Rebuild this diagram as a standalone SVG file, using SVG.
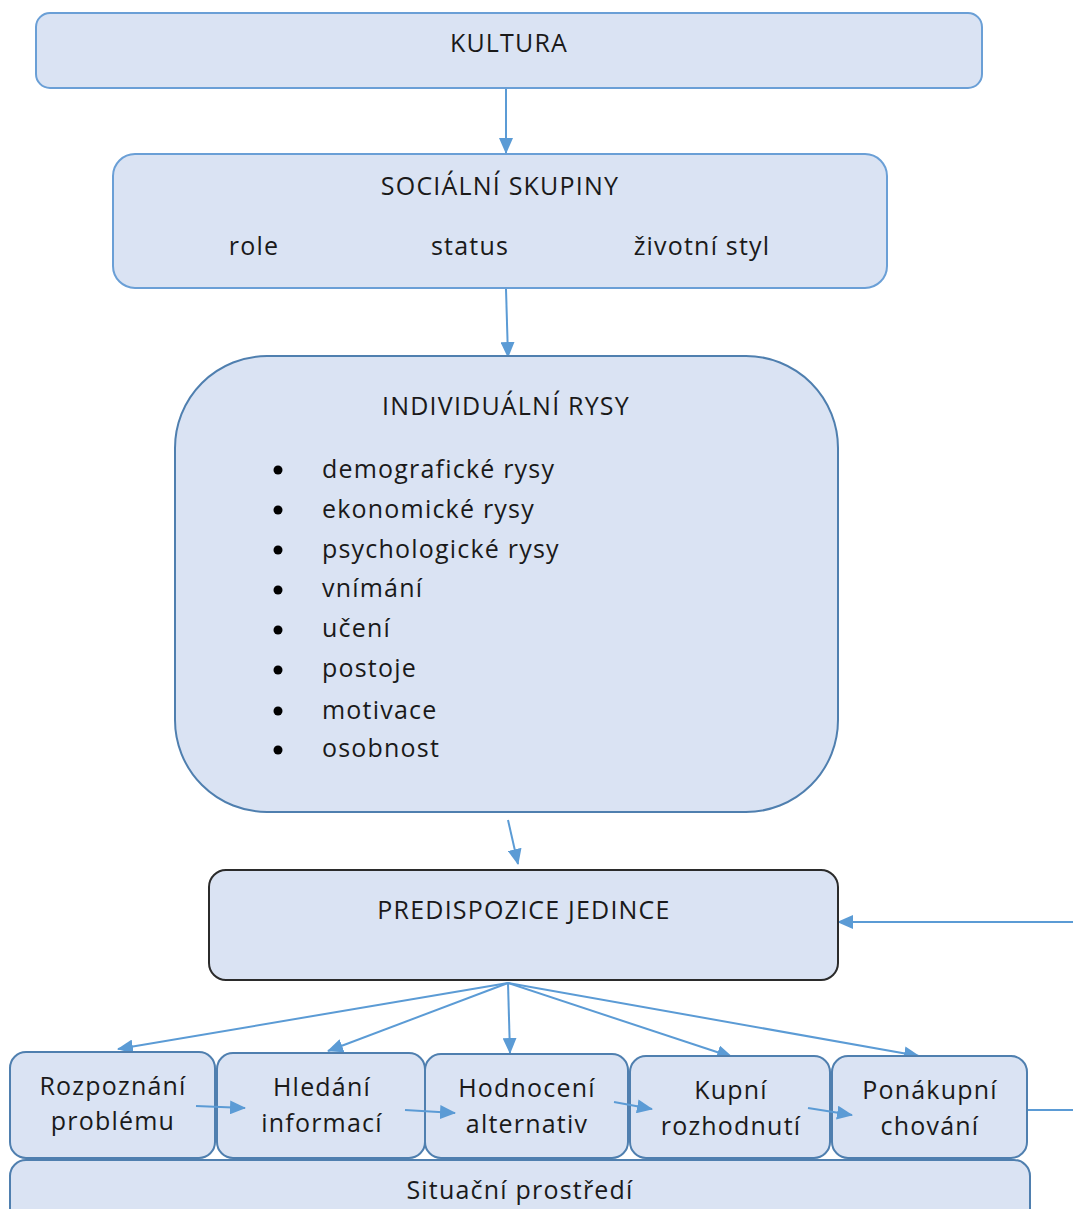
<svg xmlns="http://www.w3.org/2000/svg" width="1073" height="1209" viewBox="0 0 1073 1209">
<style>
.box{fill:#DAE3F3;stroke:#6A9FD6;stroke-width:2}
.dbox{fill:#DAE3F3;stroke:#4F7FAF;stroke-width:2}
.kbox{fill:#DAE3F3;stroke:#2B2B2B;stroke-width:2}
.t{font-family:"Open Sans","Liberation Sans",sans-serif;font-size:25px;letter-spacing:1.2px;fill:#1a1a1a;text-anchor:middle}
.l{font-family:"Open Sans","Liberation Sans",sans-serif;font-size:25px;letter-spacing:1.2px;fill:#1a1a1a}
.c{stroke:#5B9BD5;stroke-width:2;fill:none}
</style>
<defs>
<marker id="a" viewBox="0 0 16 14" refX="15" refY="7" markerWidth="16" markerHeight="14" markerUnits="userSpaceOnUse" orient="auto">
<path d="M0,0 L16,7 L0,14 z" fill="#5B9BD5"/>
</marker>
</defs>
<g id="connectors">
<line class="c" x1="506" y1="89" x2="506" y2="153" marker-end="url(#a)"/>
<line class="c" x1="506" y1="289" x2="508" y2="357" marker-end="url(#a)"/>
<line class="c" x1="508" y1="820" x2="518" y2="864" marker-end="url(#a)"/>
<line class="c" x1="1073" y1="922" x2="838" y2="922" marker-end="url(#a)"/>
<line class="c" x1="508" y1="983" x2="118" y2="1049" marker-end="url(#a)"/>
<line class="c" x1="508" y1="983" x2="328" y2="1051" marker-end="url(#a)"/>
<line class="c" x1="508" y1="983" x2="510" y2="1053" marker-end="url(#a)"/>
<line class="c" x1="508" y1="983" x2="732" y2="1057" marker-end="url(#a)"/>
<line class="c" x1="508" y1="983" x2="919" y2="1056" marker-end="url(#a)"/>
<line class="c" x1="1027" y1="1110" x2="1073" y2="1110"/>
</g>
<g id="kultura">
<rect class="box" x="36" y="13" width="946" height="75" rx="14"/>
<text class="t" x="509" y="52">KULTURA</text>
</g>
<g id="socialni-skupiny">
<rect class="box" x="113" y="154" width="774" height="134" rx="22"/>
<text class="t" x="500" y="195">SOCIÁLNÍ SKUPINY</text>
<text class="t" x="254" y="255">role</text>
<text class="t" x="470" y="255">status</text>
<text class="t" x="702" y="255">životní styl</text>
</g>
<g id="individualni-rysy">
<rect class="dbox" x="175" y="356" width="663" height="456" rx="92"/>
<text class="t" x="506" y="415">INDIVIDUÁLNÍ RYSY</text>
<g fill="#000">
<circle cx="278" cy="470" r="4.5"/><circle cx="278" cy="510" r="4.5"/><circle cx="278" cy="550" r="4.5"/><circle cx="278" cy="590" r="4.5"/>
<circle cx="278" cy="630" r="4.5"/><circle cx="278" cy="670" r="4.5"/><circle cx="278" cy="711" r="4.5"/><circle cx="278" cy="750" r="4.5"/>
</g>
<text class="l" x="322" y="478">demografické rysy</text>
<text class="l" x="322" y="518">ekonomické rysy</text>
<text class="l" x="322" y="558">psychologické rysy</text>
<text class="l" x="322" y="597">vnímání</text>
<text class="l" x="322" y="637">učení</text>
<text class="l" x="322" y="677">postoje</text>
<text class="l" x="322" y="719">motivace</text>
<text class="l" x="322" y="757">osobnost</text>
</g>
<g id="predispozice">
<rect class="kbox" x="209" y="870" width="629" height="110" rx="17"/>
<text class="t" x="524" y="919">PREDISPOZICE JEDINCE</text>
</g>
<g id="rozpoznani">
<rect class="dbox" x="10" y="1052" width="205" height="106" rx="16"/>
<text class="t" x="113" y="1095">Rozpoznání</text>
<text class="t" x="113" y="1130">problému</text>
</g>
<g id="hledani">
<rect class="dbox" x="217" y="1053" width="208" height="105" rx="16"/>
<text class="t" x="322" y="1096">Hledání</text>
<text class="t" x="322" y="1132">informací</text>
</g>
<g id="hodnoceni">
<rect class="dbox" x="425" y="1054" width="203" height="104" rx="16"/>
<text class="t" x="527" y="1097">Hodnocení</text>
<text class="t" x="527" y="1133">alternativ</text>
</g>
<g id="kupni">
<rect class="dbox" x="630" y="1056" width="200" height="102" rx="16"/>
<text class="t" x="731" y="1099">Kupní</text>
<text class="t" x="731" y="1135">rozhodnutí</text>
</g>
<g id="ponakupni">
<rect class="dbox" x="832" y="1056" width="195" height="102" rx="16"/>
<text class="t" x="930" y="1099">Ponákupní</text>
<text class="t" x="930" y="1135">chování</text>
</g>
<g id="situacni">
<rect class="dbox" x="10" y="1160" width="1020" height="70" rx="16"/>
<text class="t" x="520" y="1199">Situační prostředí</text>
</g>
<g id="flow-arrows">
<line class="c" x1="196" y1="1106" x2="245" y2="1108" marker-end="url(#a)"/>
<line class="c" x1="405" y1="1110" x2="455" y2="1113" marker-end="url(#a)"/>
<line class="c" x1="614" y1="1102" x2="652" y2="1109" marker-end="url(#a)"/>
<line class="c" x1="808" y1="1108" x2="852" y2="1115" marker-end="url(#a)"/>
</g>
</svg>
